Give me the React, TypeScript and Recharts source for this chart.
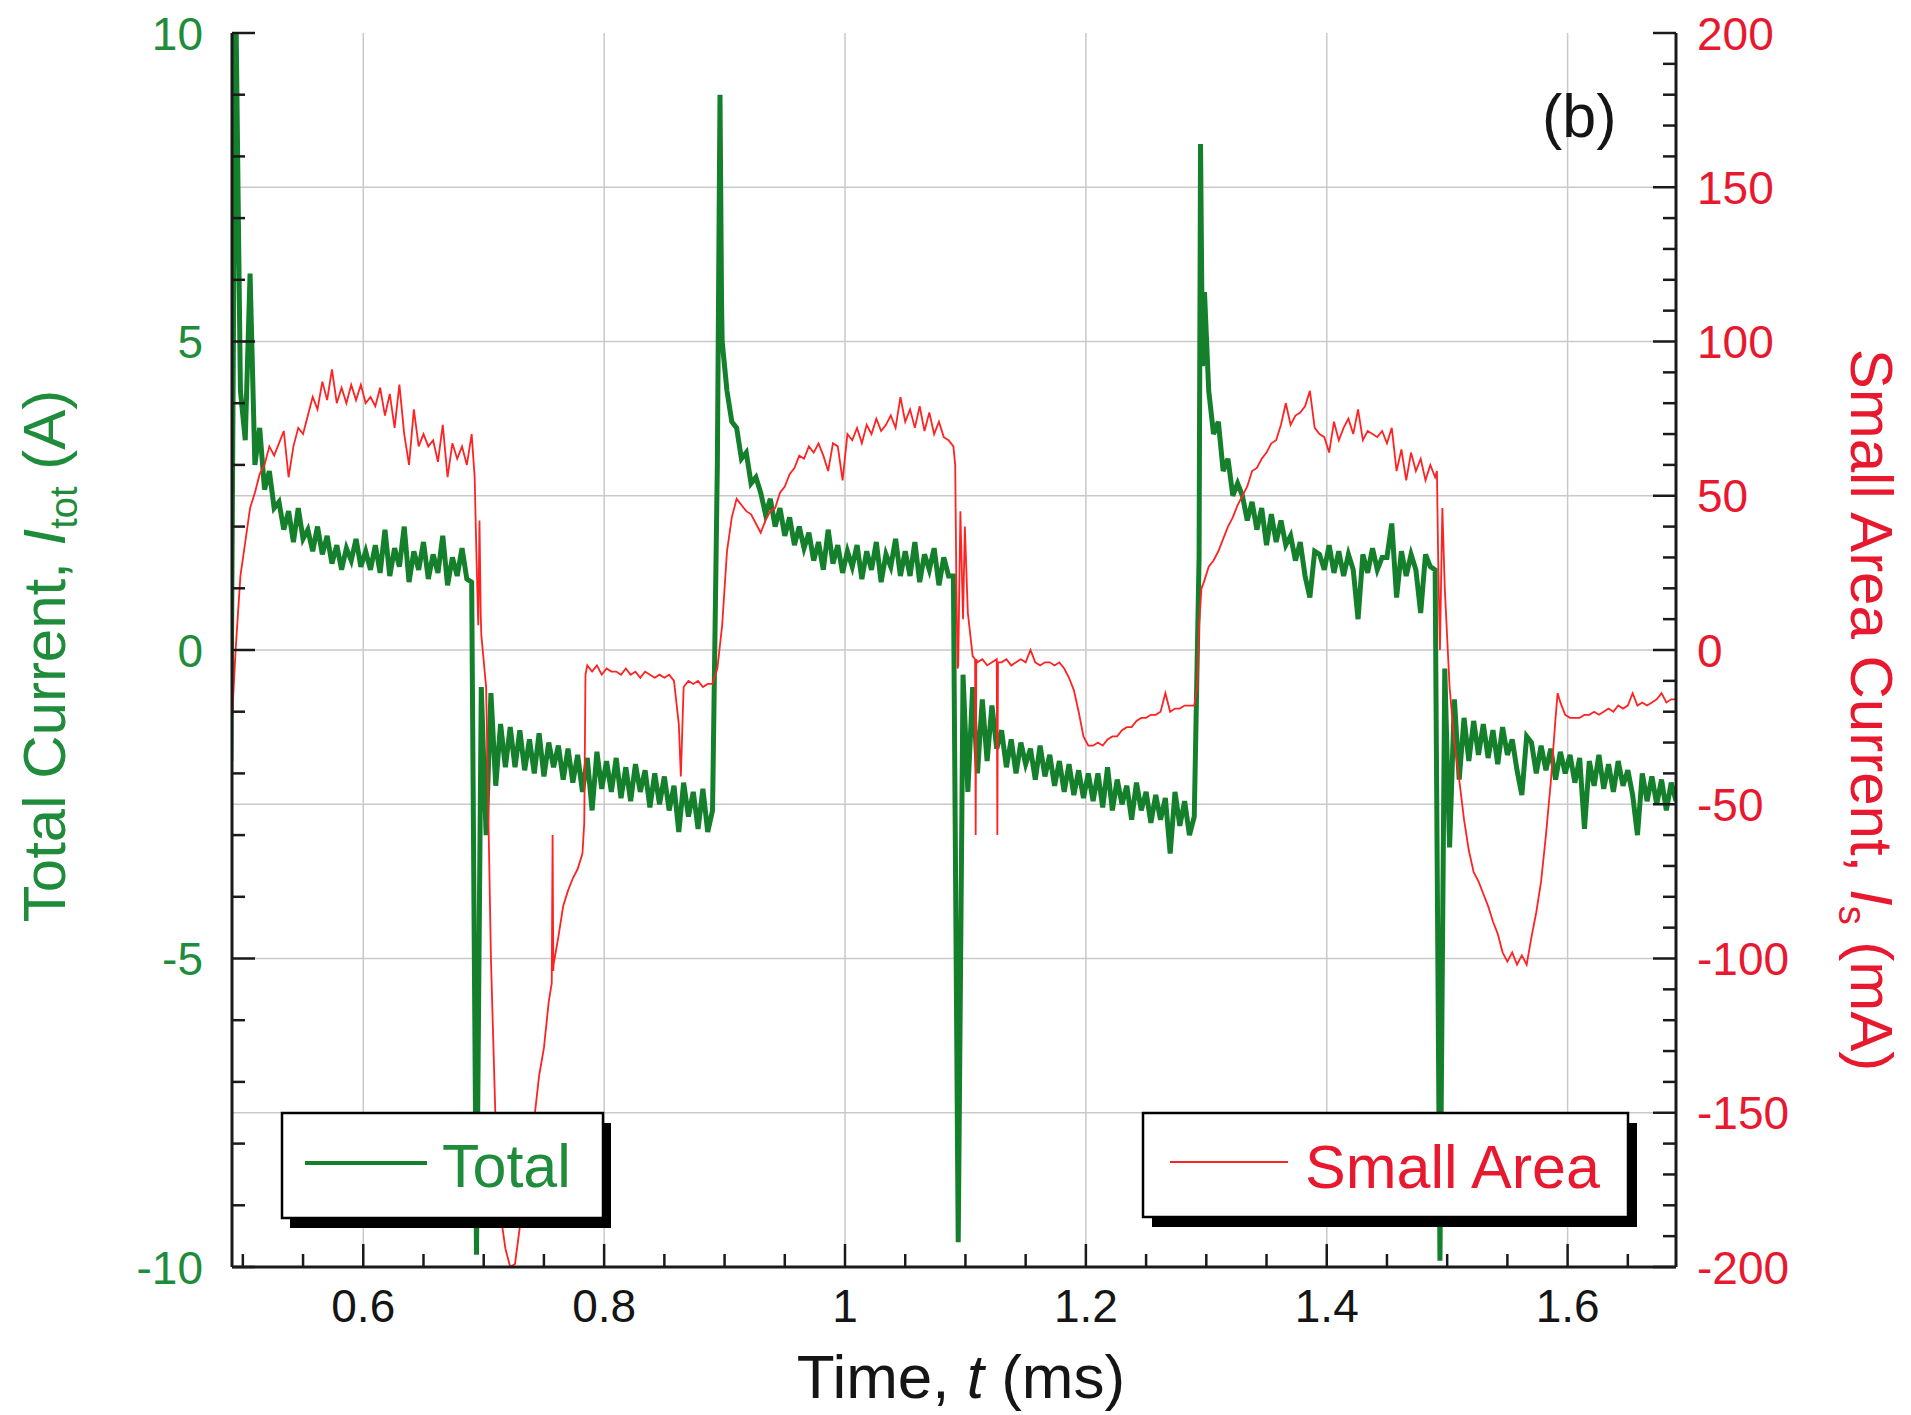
import React from 'react';
import { LineChart, Line, XAxis, YAxis, CartesianGrid } from 'recharts';

// ---------------- data ----------------
// sampling step of the hand-read traces (ms)
const SAMPLE_STEP = 0.004;

const totalCycleAStart = 0.49;
const totalCycleA = [
  -1.8, 10.8, 4.2, 3.4, 6.1, 3.0, 3.6, 2.6, 2.9, 2.3, // 0.490
  2.4, 1.95, 2.25, 1.75, 2.3, 1.8, 1.95, 1.6, 2.0, 1.55, // 0.530
  1.85, 1.4, 1.7, 1.3, 1.65, 1.45, 1.8, 1.35, 1.6, 1.3, // 0.570
  1.7, 1.25, 1.95, 1.2, 1.65, 1.35, 2.0, 1.1, 1.6, 1.3, // 0.610
  1.75, 1.15, 1.55, 1.25, 1.85, 1.05, 1.5, 1.2, 1.65, 1.15, // 0.650
  1.1, -9.8, -0.6, -3.0, -0.7, -2.2, -1.2, -1.9, -1.25, -1.9, // 0.690
  -1.3, -1.95, -1.45, -2.0, -1.35, -2.05, -1.5, -1.9, -1.55, -2.1, // 0.730
  -1.6, -2.15, -1.7, -2.3, -1.75, -2.6, -1.65, -2.25, -1.8, -2.3, // 0.770
  -1.75, -2.4, -1.9, -2.45, -1.85, -2.3, -1.95, -2.55, -2.0, -2.5, // 0.810
  -2.05, -2.6, -2.2, -2.95, -2.15, -2.7, -2.3, -2.9, -2.25, -2.95, // 0.850
];
const totalCycleBStart = 0.89;
const totalCycleB = [
  -2.6, 3.0, 5.0, 4.2, 3.7, 3.6, 3.1, 3.2, 2.7, 2.8, // 0.890
  2.55, 2.2, 2.45, 2.0, 2.3, 1.85, 2.15, 1.7, 2.0, 1.65, // 0.930
  1.9, 1.45, 1.75, 1.3, 1.95, 1.4, 1.7, 1.25, 1.6, 1.35, // 0.970
  1.7, 1.15, 1.6, 1.3, 1.75, 1.1, 1.55, 1.35, 1.8, 1.2, // 1.010
  1.6, 1.2, 1.75, 1.1, 1.55, 1.3, 1.65, 1.05, 1.5, 1.2, // 1.050
  1.2, -9.6, -0.4, -2.3, -0.6, -2.0, -0.8, -1.8, -0.9, -1.6, // 1.090
  -1.3, -1.9, -1.45, -2.0, -1.5, -1.85, -1.6, -2.1, -1.55, -2.05, // 1.130
  -1.7, -2.2, -1.8, -2.3, -1.85, -2.35, -1.95, -2.4, -2.0, -2.45, // 1.170
  -2.0, -2.55, -1.9, -2.6, -2.1, -2.5, -2.2, -2.75, -2.15, -2.6, // 1.210
  -2.3, -2.8, -2.35, -2.75, -2.4, -3.3, -2.3, -2.85, -2.45, -3.0, // 1.250
];
const totalCycleCStart = 1.29;
const totalCycleC = [
  -2.7, 1.5, 5.0, 4.2, 3.5, 3.7, 2.9, 3.1, 2.5, 2.7, // 1.290
  2.5, 2.1, 2.4, 1.95, 2.3, 1.7, 2.2, 1.75, 2.1, 1.7, // 1.330
  1.85, 1.45, 1.75, 1.2, 0.85, 1.6, 1.55, 1.3, 1.7, 1.25, // 1.370
  1.6, 1.2, 1.55, 1.3, 0.5, 1.55, 1.25, 1.65, 1.3, 1.5, // 1.410
  1.5, 2.05, 0.85, 1.6, 1.2, 1.55, 1.3, 0.6, 1.55, 1.35, // 1.450
  1.3, -9.9, -0.3, -3.2, -0.8, -2.1, -1.1, -1.8, -1.15, -1.7, // 1.490
  -1.2, -1.75, -1.3, -1.85, -1.25, -1.7, -1.45, -1.95, -2.35, -1.4, // 1.530
  -1.5, -2.0, -1.55, -1.95, -1.6, -2.1, -1.65, -2.0, -1.7, -2.15, // 1.570
  -1.75, -2.9, -1.8, -2.2, -1.7, -2.25, -1.85, -2.3, -1.8, -2.2, // 1.610
  -1.95, -2.35, -3.0, -2.0, -2.45, -2.05, -2.5, -2.1, -2.6, -2.15, // 1.650
  -2.45, // 1.690
];
// extra points at the sharp switching spikes [time ms, current A]
const totalSpikes: [number, number][] = [
  [0.8962, 9.0], [0.8975, 5.6],
  [1.2952, 8.2], [1.2968, 4.6], [1.2985, 5.8],
];

// Small area current (mA), sampled every 0.004 ms
const smallCycleAStart = 0.49;
const smallCycleA = [
  -30, 0, 24, 35, 46, 51, 57, 60, 66, 63, // 0.490
  67, 71, 56, 66, 72, 70, 76, 82, 78, 87, // 0.530
  81, 91, 80, 85, 80, 86, 81, 86, 80, 82, // 0.570
  79, 85, 76, 83, 72, 86, 70, 60, 78, 66, // 0.610
  70, 66, 68, 61, 73, 56, 67, 62, 66, 60, // 0.650
  70, 30, 5, -12, -100, -155, -183, -194, -200, -199, // 0.690
  -187, -176, -160, -152, -138, -129, -114, -102, -93, -83, // 0.730
  -78, -74, -71, -66, -5, -7, -5, -8, -6, -7, // 0.770
  -7, -8, -6, -8, -7, -9, -7, -8, -9, -8, // 0.810
  -9, -8, -10, -24, -12, -10, -11, -10, -12, -11, // 0.850
];
const smallCycleBStart = 0.89;
const smallCycleB = [
  -11, -6, 8, 32, 43, 49, 47, 45, 44, 41, // 0.890
  38, 42, 45, 46, 51, 53, 57, 59, 63, 62, // 0.930
  66, 64, 67, 63, 58, 67, 66, 55, 70, 68, // 0.970
  72, 67, 73, 70, 75, 71, 73, 76, 72, 82, // 1.010
  74, 78, 72, 79, 71, 77, 70, 74, 69, 68, // 1.050
  66, -5, 10, 12, -2, -4, -3, -5, -4, -3, // 1.090
  -4, -3, -5, -4, -3, -4, 0, -4, -5, -4, // 1.130
  -4, -5, -4, -6, -9, -13, -20, -28, -31, -31, // 1.170
  -30, -31, -29, -28, -28, -26, -25, -25, -23, -22, // 1.210
  -22, -21, -21, -20, -14, -20, -19, -19, -18, -18, // 1.250
];
const smallCycleCStart = 1.29;
const smallCycleC = [
  -18, 8, 22, 27, 29, 32, 36, 40, 43, 47, // 1.290
  50, 53, 58, 59, 62, 64, 67, 68, 73, 80, // 1.330
  73, 76, 77, 79, 84, 72, 70, 69, 64, 74, // 1.370
  68, 72, 75, 70, 78, 68, 71, 70, 69, 71, // 1.410
  67, 72, 58, 65, 55, 64, 58, 62, 55, 60, // 1.450
  56, 0, 20, -12, -30, -42, -55, -65, -72, -75, // 1.490
  -79, -83, -88, -92, -98, -101, -98, -102, -99, -102, // 1.530
  -93, -85, -75, -60, -43, -22, -17, -21, -22, -22, // 1.570
  -22, -21, -21, -20, -21, -20, -19, -20, -18, -19, // 1.610
  -18, -14, -18, -17, -18, -17, -16, -14, -17, -16, // 1.650
  -16, // 1.690
];
const smallSpikes: [number, number][] = [
  [0.6925, 56], [0.6955, 8], [0.6965, 42], [0.6975, 12],
  [0.7565, -108], [0.7572, -60], [0.7578, -104],
  [0.7835, -56], [0.7845, -8],
  [0.8637, -41],
  [1.0915, 60], [1.0925, 20], [1.0935, -6], [1.0958, 45], [1.0995, 40],
  [1.108, -3], [1.1085, -60], [1.109, -3],
  [1.126, -4], [1.1265, -60], [1.127, -4],
  [1.2925, -12], [1.296, 20],
  [1.4915, 58], [1.4925, 30], [1.496, 46],
  [1.5917, -14],
];

// axes
const X_DOMAIN: [number, number] = [0.491, 1.69];
const xTicks = [0.5, 0.55, 0.6, 0.65, 0.7, 0.75, 0.8, 0.85, 0.9, 0.95, 1, 1.05, 1.1, 1.15, 1.2, 1.25, 1.3, 1.35, 1.4, 1.45, 1.5, 1.55, 1.6, 1.65];
const xLabelTicks = [0.6, 0.8, 1, 1.2, 1.4, 1.6];
const leftTicks = [-10, -9, -8, -7, -6, -5, -4, -3, -2, -1, 0, 1, 2, 3, 4, 5, 6, 7, 8, 9, 10];
const leftLabelTicks = [-10, -5, 0, 5, 10];
const rightTicks = [-200, -190, -180, -170, -160, -150, -140, -130, -120, -110, -100, -90, -80, -70, -60, -50, -40, -30, -20, -10, 0, 10, 20, 30, 40, 50, 60, 70, 80, 90, 100, 110, 120, 130, 140, 150, 160, 170, 180, 190, 200];
const rightLabelTicks = [-200, -150, -100, -50, 0, 50, 100, 150, 200];
const gridCurrentValues = [-7.5, -5, -2.5, 0, 2.5, 5, 7.5];

// ---------------- build tables ----------------
type Pt = { t: number; v: number };
function fromSamples(start: number, values: number[]): Pt[] {
  return values.map((v, i) => ({ t: +(start + i * SAMPLE_STEP).toFixed(4), v }));
}
function merge(parts: Pt[][], extra: [number, number][]): Pt[] {
  const all = ([] as Pt[]).concat(...parts, extra.map(([t, v]) => ({ t, v })));
  all.sort((a, b) => a.t - b.t);
  return all;
}
const totalData = merge(
  [fromSamples(totalCycleAStart, totalCycleA), fromSamples(totalCycleBStart, totalCycleB), fromSamples(totalCycleCStart, totalCycleC)],
  totalSpikes
);
const smallData = merge(
  [fromSamples(smallCycleAStart, smallCycleA), fromSamples(smallCycleBStart, smallCycleB), fromSamples(smallCycleCStart, smallCycleC)],
  smallSpikes
);

// ---------------- style ----------------
const FONT = '"Liberation Sans", Arial, Helvetica, sans-serif';
const GREEN_LINE = '#14802c';
const GREEN_TEXT = '#1f8c3b';
const RED_LINE = '#ff2222';
const RED_TEXT = '#e8192f';
const AXIS = '#1a1a1a';
const W = 1895;
const H = 1407;
const TICK_MAJOR = 23;
const TICK_MINOR = 13;
const TICK_FONT = 46;

const has = (arr: number[], v: number) => arr.some((m) => Math.abs(m - v) < 1e-6);

const BottomTick = (p: any) => {
  const v = p.payload.value;
  const major = has(xLabelTicks, v);
  return (
    <g>
      <line x1={p.x} x2={p.x} y1={p.y} y2={p.y - (major ? TICK_MAJOR : TICK_MINOR)} stroke={AXIS} strokeWidth={2.5} />
      {major && (
        <text x={p.x} y={p.y + 55} textAnchor="middle" fontSize={TICK_FONT} fontFamily={FONT} fill="#151515">
          {String(v)}
        </text>
      )}
    </g>
  );
};
const TopTick = (p: any) => {
  const major = has(xLabelTicks, p.payload.value);
  return <line x1={p.x} x2={p.x} y1={p.y} y2={p.y + (major ? TICK_MAJOR : TICK_MINOR)} stroke={AXIS} strokeWidth={2.5} />;
};
const LeftTick = (p: any) => {
  const v = p.payload.value;
  const major = has(leftLabelTicks, v);
  return (
    <g>
      <line x1={p.x} x2={p.x + (major ? TICK_MAJOR : TICK_MINOR)} y1={p.y} y2={p.y} stroke={AXIS} strokeWidth={2.5} />
      {major && (
        <text x={p.x - 29} y={p.y} dy="0.36em" textAnchor="end" fontSize={TICK_FONT} fontFamily={FONT} fill={GREEN_TEXT}>
          {String(v)}
        </text>
      )}
    </g>
  );
};
const RightTick = (p: any) => {
  const v = p.payload.value;
  const major = has(rightLabelTicks, v);
  return (
    <g>
      <line x1={p.x} x2={p.x - (major ? TICK_MAJOR : TICK_MINOR)} y1={p.y} y2={p.y} stroke={AXIS} strokeWidth={2.5} />
      {major && (
        <text x={p.x + 21} y={p.y} dy="0.36em" textAnchor="start" fontSize={TICK_FONT} fontFamily={FONT} fill={RED_TEXT}>
          {String(v)}
        </text>
      )}
    </g>
  );
};

const axisLine = { stroke: AXIS, strokeWidth: 3 };

export default function App() {
  return (
    <div style={{ position: 'relative', width: W, height: H, background: '#fff' }}>
      <LineChart width={W} height={H} margin={{ top: 25, right: 0, bottom: 8, left: 0 }}>
        <CartesianGrid
          xAxisId="bottom"
          yAxisId="left"
          horizontalValues={gridCurrentValues}
          verticalValues={xLabelTicks}
          stroke="#c9c9c9"
          strokeWidth={1.5}
        />
        <XAxis
          xAxisId="bottom"
          dataKey="t"
          type="number"
          domain={X_DOMAIN}
          allowDataOverflow
          ticks={xTicks}
          interval={0}
          height={140}
          tickLine={false}
          tickSize={0}
          tickMargin={0}
          axisLine={axisLine}
          tick={BottomTick}
        />
        <XAxis
          xAxisId="top"
          orientation="top"
          type="number"
          domain={X_DOMAIN}
          allowDataOverflow
          ticks={xTicks}
          interval={0}
          height={0}
          tickLine={false}
          tickSize={0}
          tickMargin={0}
          axisLine={axisLine}
          tick={TopTick}
        />
        <YAxis
          yAxisId="left"
          type="number"
          domain={[-10, 10]}
          allowDataOverflow
          ticks={leftTicks}
          interval={0}
          width={224}
          tickLine={false}
          tickSize={0}
          tickMargin={0}
          axisLine={axisLine}
          tick={LeftTick}
        />
        <YAxis
          yAxisId="right"
          orientation="right"
          type="number"
          domain={[-200, 200]}
          allowDataOverflow
          ticks={rightTicks}
          interval={0}
          width={227}
          tickLine={false}
          tickSize={0}
          tickMargin={0}
          axisLine={axisLine}
          tick={RightTick}
        />
        <Line
          xAxisId="bottom"
          yAxisId="left"
          data={totalData}
          dataKey="v"
          name="Total"
          type="linear"
          stroke={GREEN_LINE}
          strokeWidth={5}
          dot={false}
          activeDot={false}
          isAnimationActive={false}
        />
        <Line
          xAxisId="bottom"
          yAxisId="right"
          data={smallData}
          dataKey="v"
          name="Small Area"
          type="linear"
          stroke={RED_LINE}
          strokeWidth={1.8}
          dot={false}
          activeDot={false}
          isAnimationActive={false}
        />
      </LineChart>
      <svg width={W} height={H} style={{ position: 'absolute', left: 0, top: 0, pointerEvents: 'none', overflow: 'visible' }}>
        <text x={1534} y={129} fontSize={61} fontFamily={FONT} fill="#151515">(b)</text>

        {/* legend: Total */}
        <rect x={282} y={1115} width={321} height={105} fill="#000" />
        <rect x={274} y={1105} width={321} height={105} fill="#fff" stroke="#000" strokeWidth={2.5} />
        <line x1={297} x2={419} y1={1155} y2={1155} stroke={GREEN_LINE} strokeWidth={4} />
        <text x={434} y={1179} fontSize={61} fontFamily={FONT} fill={GREEN_TEXT}>Total</text>

        {/* legend: Small Area */}
        <rect x={1144} y={1115} width={485} height={104} fill="#000" />
        <rect x={1135} y={1105} width={485} height={104} fill="#fff" stroke="#000" strokeWidth={2.5} />
        <line x1={1162} x2={1280} y1={1154} y2={1154} stroke={RED_LINE} strokeWidth={2} />
        <text x={1297} y={1180} fontSize={61} fontFamily={FONT} fill={RED_TEXT}>Small Area</text>

        {/* axis titles */}
        <text x={953} y={1390} textAnchor="middle" fontSize={62} fontFamily={FONT} fill="#151515">
          {'Time, '}
          <tspan fontStyle="italic">t</tspan>
          {' (ms)'}
        </text>
        <text transform="translate(57,648) rotate(-90)" textAnchor="middle" fontSize={60} fontFamily={FONT} fill={GREEN_TEXT}>
          {'Total Current, '}
          <tspan fontStyle="italic">I</tspan>
          <tspan fontSize={38} dy={12}>tot</tspan>
          <tspan dy={-12}>{' (A)'}</tspan>
        </text>
        <text transform="translate(1843,702) rotate(90)" textAnchor="middle" fontSize={60} fontFamily={FONT} fill={RED_TEXT}>
          {'Small Area Current, '}
          <tspan fontStyle="italic">I</tspan>
          <tspan fontSize={38} dy={12}>s</tspan>
          <tspan dy={-12}>{' (mA)'}</tspan>
        </text>
      </svg>
    </div>
  );
}
